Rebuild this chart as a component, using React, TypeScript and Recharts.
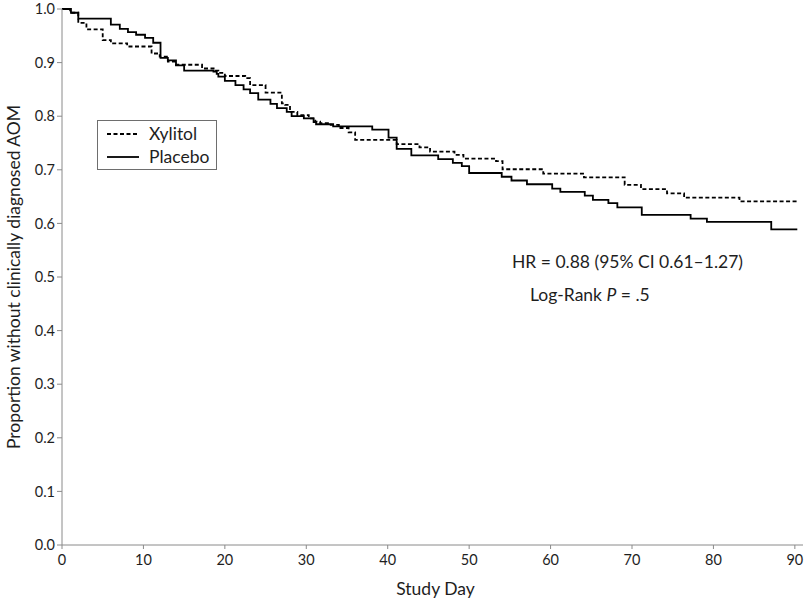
import { LineChart, Line, XAxis, YAxis, Legend } from "recharts"

// ---------------------------------------------------------------------------
// Kaplan-Meier steps (day the step starts, survival after)
// ---------------------------------------------------------------------------

const xylitolDays = [
  0, 1, 2, 3, 5, 6, 8, 11, 12, 13, 14, 17.2, 18.8, 19.2, 20, 22.5, 23.1, 25, 27, 27.4, 28,
  28.9, 30.3, 31.1, 31.7, 33, 34, 35.2, 36, 41.1, 43.9, 45.2, 48.2, 49.3, 53.3, 54.1, 59.1,
  64.1, 69.1, 71.1, 74.3, 76.4, 83.2, 90.3,
]
const xylitolSurv = [
  1.0, 0.993, 0.974, 0.962, 0.942, 0.936, 0.93, 0.917, 0.911, 0.902, 0.896, 0.889, 0.885,
  0.881, 0.875, 0.871, 0.858, 0.844, 0.824, 0.821, 0.808, 0.802, 0.796, 0.79, 0.787, 0.784,
  0.778, 0.77, 0.756, 0.748, 0.742, 0.734, 0.728, 0.721, 0.716, 0.701, 0.693, 0.686, 0.672,
  0.664, 0.656, 0.648, 0.641, 0.641,
]

const placeboDays = [
  0, 1.1, 2, 6, 7.1, 8.1, 9.1, 10.2, 11.2, 12.1, 13, 14, 15, 18.6, 19, 19.2, 20, 21.3, 22.3,
  23.1, 24.1, 25.6, 26.4, 27.6, 28.2, 29.7, 30.9, 31.2, 33.3, 38.1, 40.1, 41.1, 42.9, 46.2,
  48, 49.1, 50, 54, 55.2, 57.1, 60.2, 61.2, 64.2, 65.2, 67.1, 68.2, 71.2, 77.2, 79.2, 87.1,
  90.3,
]
const placeboSurv = [
  1.0, 0.993, 0.982, 0.971, 0.963, 0.957, 0.952, 0.946, 0.937, 0.909, 0.904, 0.895, 0.885,
  0.883, 0.879, 0.874, 0.866, 0.858, 0.85, 0.843, 0.831, 0.823, 0.815, 0.808, 0.8, 0.796,
  0.789, 0.785, 0.781, 0.775, 0.76, 0.739, 0.727, 0.72, 0.713, 0.707, 0.694, 0.687, 0.68,
  0.673, 0.665, 0.659, 0.652, 0.644, 0.638, 0.63, 0.616, 0.609, 0.603, 0.589, 0.589,
]

const dayTicks = [0, 10, 20, 30, 40, 50, 60, 70, 80, 90]
const propTicks = [0, 0.1, 0.2, 0.3, 0.4, 0.5, 0.6, 0.7, 0.8, 0.9, 1.0]

const xylitolData = xylitolDays.map((day, i) => ({ day, surv: xylitolSurv[i] }))
const placeboData = placeboDays.map((day, i) => ({ day, surv: placeboSurv[i] }))

const FONT = "Lato, 'Open Sans', sans-serif"
const INK = "#1e1e1e"
const AXIS = "#8a8a8a"

// ---------------------------------------------------------------------------
// Legend box
// ---------------------------------------------------------------------------

function LegendBox() {
  const row = (dash: string | undefined, label: string) => (
    <div style={{ display: "flex", alignItems: "center", height: 23 }}>
      <svg width={32} height={6} style={{ marginRight: 10 }}>
        <line x1={0} y1={3} x2={32} y2={3} stroke="#000" strokeWidth={1.8} strokeDasharray={dash} />
      </svg>
      <span>{label}</span>
    </div>
  )
  return (
    <div
      style={{
        boxSizing: "border-box",
        width: 120,
        height: 50,
        border: "1px solid #6e6e6e",
        padding: "1px 0 0 9px",
        fontFamily: FONT,
        fontSize: 17.5,
        color: INK,
        lineHeight: 1,
        background: "#fff",
      }}
    >
      {row("4 2.5", "Xylitol")}
      {row(undefined, "Placebo")}
    </div>
  )
}

export default function App() {
  return (
    <div style={{ position: "absolute", left: 0, top: 0, background: "#fff" }}>
      <LineChart width={805} height={598} margin={{ top: 9, right: 2, left: 0, bottom: 0 }}>
        <XAxis
          type="number"
          dataKey="day"
          domain={[0, 91]}
          ticks={dayTicks}
          allowDuplicatedCategory={false}
          height={53}
          stroke={AXIS}
          tickSize={4}
          tickMargin={6}
          tick={{ fill: INK, fontSize: 14.5, fontFamily: FONT }}
          label={{
            value: "Study Day",
            position: "insideBottom",
            offset: 3,
            dx: 3,
            style: { fill: INK, fontSize: 17.5, fontFamily: FONT },
          }}
        />
        <YAxis
          type="number"
          domain={[0, 1]}
          ticks={propTicks}
          width={62}
          stroke={AXIS}
          tickSize={5}
          tickMargin={2}
          tickFormatter={(v: number) => v.toFixed(1)}
          tick={{ fill: INK, fontSize: 14.5, fontFamily: FONT }}
          label={{
            content: (props: any) => {
              const vb = props.viewBox || { x: 0, y: 9, width: 62, height: 536 }
              const cx = vb.x + 13
              const cy = vb.y + vb.height / 2
              return (
                <text
                  x={cx}
                  y={cy}
                  transform={`rotate(-90 ${cx} ${cy})`}
                  textAnchor="middle"
                  dominantBaseline="central"
                  fill={INK}
                  fontSize={17.5}
                  fontFamily={FONT}
                >
                  Proportion without clinically diagnosed AOM
                </text>
              )
            },
          }}
        />

        <Legend
          layout="horizontal"
          verticalAlign="middle"
          align="center"
          content={() => <LegendBox />}
          wrapperStyle={{ left: 97, top: 120, width: 120, height: 50 }}
        />

        {/* Placebo: solid */}
        <Line
          data={placeboData}
          dataKey="surv"
          name="Placebo"
          type="stepAfter"
          stroke="#000"
          strokeWidth={1.8}
          dot={false}
          activeDot={false}
          isAnimationActive={false}
        />

        {/* Xylitol: dashed */}
        <Line
          data={xylitolData}
          dataKey="surv"
          name="Xylitol"
          type="stepAfter"
          stroke="#000"
          strokeWidth={1.8}
          strokeDasharray="4 2.5"
          dot={false}
          activeDot={false}
          isAnimationActive={false}
        />

        <text x={512} y={268} fill={INK} fontSize={17.5} fontFamily={FONT}>
          HR = 0.88 (95% CI 0.61–1.27)
        </text>
        <text x={530} y={301} fill={INK} fontSize={17.5} fontFamily={FONT}>
          Log-Rank <tspan fontStyle="italic">P</tspan> = .5
        </text>
      </LineChart>
    </div>
  )
}
